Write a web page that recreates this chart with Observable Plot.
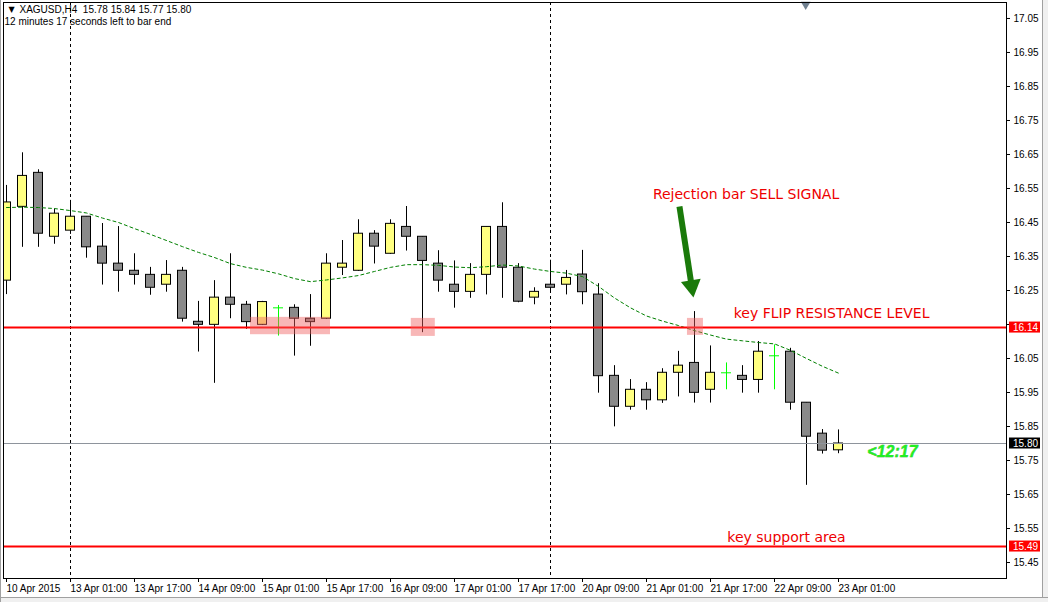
<!DOCTYPE html>
<html>
<head>
<meta charset="utf-8">
<script src="https://cdn.jsdelivr.net/npm/d3@7"></script>
<script src="https://cdn.jsdelivr.net/npm/@observablehq/plot@0.6"></script>
<style>
  html, body { margin: 0; padding: 0; background: #fff; }
  #wrap { position: relative; width: 1048px; height: 602px; overflow: hidden; }
  #edgeR { position: absolute; left: 1042px; top: 0; width: 6px; height: 602px; background: #f0f0f0; border-left: 1px solid #a0a0a0; }
  #edgeB { position: absolute; left: 0; top: 597px; width: 1048px; height: 5px; background: #f0f0f0; border-top: 1px solid #a0a0a0; }
  #edgeL { position: absolute; left: 0; top: 0; width: 1px; height: 602px; background: #a0a0a0; }
</style>
</head>
<body>
<div id="wrap"><div id="edgeR"></div><div id="edgeB"></div><div id="edgeL"></div></div>
<script>
// ---- Data (XAGUSD, H4) ----
const symbolHeader = "XAGUSD,H4  15.78 15.84 15.77 15.80";
const timerText = "12 minutes 17 seconds left to bar end";
const countdown = "<12:17";

const opens  = [16.279,16.496,16.596,16.408,16.426,16.467,16.379,16.329,16.308,16.296,
                16.267,16.308,16.158,16.149,16.229,16.208,16.149,16.199,16.199,16.167,
                16.167,16.317,16.308,16.417,16.358,16.437,16.408,16.329,16.267,16.246,
                16.296,16.437,16.317,16.229,16.267,16.267,16.297,16.238,15.999,15.908,
                15.958,15.927,16.008,16.037,15.958,16.008,15.999,15.987,16.058,16.070,
                15.920,15.829,15.78];
const highs  = [16.559,16.655,16.605,16.490,16.515,16.467,16.447,16.438,16.358,16.318,
                16.338,16.318,16.218,16.279,16.358,16.218,16.218,16.206,16.208,16.238,
                16.358,16.397,16.458,16.426,16.458,16.497,16.408,16.367,16.337,16.329,
                16.437,16.508,16.329,16.258,16.339,16.309,16.368,16.270,16.029,15.988,
                15.979,16.020,16.071,16.188,16.087,16.037,16.029,16.100,16.090,16.080,
                15.920,15.841,15.84];
const lows   = [16.238,16.377,16.377,16.386,16.415,16.345,16.266,16.245,16.266,16.236,
                16.245,16.157,16.069,15.977,16.167,16.136,16.147,16.116,16.057,16.086,
                16.165,16.294,16.306,16.328,16.356,16.366,16.126,16.245,16.198,16.227,
                16.237,16.227,16.214,16.208,16.250,16.237,16.208,15.948,15.849,15.898,
                15.898,15.918,15.937,15.919,15.919,15.958,15.948,15.948,15.958,15.898,
                15.677,15.769,15.77];
const closes = [16.509,16.587,16.417,16.476,16.467,16.377,16.329,16.308,16.296,16.258,
                16.296,16.167,16.149,16.229,16.208,16.157,16.216,16.199,16.167,16.157,
                16.329,16.329,16.417,16.379,16.446,16.408,16.337,16.279,16.246,16.296,
                16.437,16.317,16.217,16.246,16.258,16.287,16.245,15.998,15.908,15.958,
                15.927,16.008,16.029,15.949,16.008,16.008,15.987,16.070,16.058,15.920,
                15.820,15.779,15.80];
const movingAvg = [16.494,16.495,16.494,16.491,16.485,16.478,16.463,16.450,16.432,16.415,
                16.397,16.379,16.362,16.347,16.329,16.318,16.310,16.299,16.285,16.276,
                16.281,16.287,16.294,16.306,16.318,16.326,16.326,16.324,16.319,16.317,
                16.320,16.325,16.322,16.313,16.306,16.301,16.291,16.262,16.228,16.199,
                16.175,16.160,16.147,16.132,16.119,16.107,16.102,16.097,16.093,16.074,
                16.050,16.027,16.007];

const tickIndex  = [0,4,8,12,16,20,24,28,32,36,40,44,48,52];
const tickLabels = ["10 Apr 2015","13 Apr 01:00","13 Apr 17:00","14 Apr 09:00","15 Apr 01:00",
                    "15 Apr 17:00","16 Apr 09:00","17 Apr 01:00","17 Apr 17:00","20 Apr 09:00",
                    "21 Apr 01:00","21 Apr 17:00","22 Apr 09:00","23 Apr 01:00"];
const priceTicks = [15.45,15.55,15.65,15.75,15.85,15.95,16.05,16.15,16.25,16.35,16.45,16.55,16.65,16.75,16.85,16.95,17.05];
const hiddenTickLabels = [16.15]; // covered by the 16.14 price tag
const weekStarts = [4, 34];
// horizontal level lines (exact prices; tags show them truncated to 2 decimals)
const levelLines = [16.141, 15.497];
const levelTagText = ["16.14", "15.49"];
const bidPrice = 15.80;
const priceTags = [
  {v: levelLines[0], label: levelTagText[0], bg: "#ff0000"},
  {v: bidPrice, label: "15.80", bg: "#000000"},
  {v: levelLines[1], label: levelTagText[1], bg: "#ff0000"}
];

const highlights = [
  {x1: 15.25, x2: 20.25, y1: 16.171, y2: 16.120},
  {x1: 25.30, x2: 26.80, y1: 16.168, y2: 16.115},
  {x1: 42.56, x2: 43.56, y1: 16.168, y2: 16.118}
];
const notes = [
  {text: "Rejection bar SELL SIGNAL", x: 40.4, y: 16.532},
  {text: "key FLIP RESISTANCE LEVEL", x: 45.45, y: 16.182},
  {text: "key support area", x: 45.05, y: 15.524}
];
const arrowShaft = [{x1: 42.06, y1: 16.497, x2: 42.80, y2: 16.270}];
const arrowHead = [{x: 42.825, y: 16.263}];
const countdownPos = [{x: 53.8, y: 15.774}];
const shiftMarker = [49.95];

// ---- Build ----
const bars = opens.map((o, i) => ({i, o, h: highs[i], l: lows[i], c: closes[i]}));
const bodies = bars.filter(d => d.o !== d.c);
const dojis = bars.filter(d => d.o === d.c);
const maData = movingAvg.map((v, i) => ({i, v}));
const labelOf = new Map(tickIndex.map((t, k) => [t, tickLabels[k]]));
const fmt2 = d3.format(".2f");

const W = 1048, H = 602, mL = 3, mR = 42, mT = 2, mB = 24;
const uiFont = "Liberation Sans, Arial, sans-serif";
const noteFont = "DejaVu Sans, Verdana, sans-serif";

const chart = Plot.plot({
  width: W, height: H,
  marginLeft: mL, marginRight: mR, marginTop: mT, marginBottom: mB,
  style: {background: "transparent", fontFamily: uiFont, fontSize: "10px", color: "#000", overflow: "visible"},
  x: {domain: [-0.1875, 62.5]},
  y: {domain: [15.403, 17.097]},
  marks: [
    Plot.ruleX(weekStarts, {x: d => d, stroke: "#000", strokeDasharray: "3,3"}),
    Plot.ruleX(bodies, {x: "i", y1: "l", y2: "h", stroke: "#000", clip: true}),
    Plot.ruleX(dojis, {x: "i", y1: "l", y2: "h", stroke: "#00ff00", clip: true}),
    Plot.ruleY(dojis, {y: "o", x1: d => d.i - 0.5, x2: d => d.i + 0.5, insetLeft: 3, insetRight: 3, stroke: "#00ff00"}),
    Plot.rect(bodies, {
      x1: d => d.i - 0.5, x2: d => d.i + 0.5, y1: "o", y2: "c",
      insetLeft: 3.5, insetRight: 3.5,
      fill: d => d.c > d.o ? "#ffff80" : "#8a8a8a", stroke: "#000", strokeWidth: 1, clip: true
    }),
    Plot.line(maData, {x: "i", y: "v", stroke: "#008000", strokeDasharray: "3,3", strokeWidth: 1, clip: true}),
    Plot.ruleY([bidPrice], {y: d => d, stroke: "#8e949c"}),
    Plot.ruleY(levelLines, {y: d => d, stroke: "#ff0000", strokeWidth: 2}),
    Plot.rect(highlights, {x1: "x1", x2: "x2", y1: "y1", y2: "y2", fill: "#f06060", fillOpacity: 0.45}),
    Plot.link(arrowShaft, {x1: "x1", y1: "y1", x2: "x2", y2: "y2", stroke: "#1a7a0a", strokeWidth: 6}),
    Plot.dot(arrowHead, {x: "x", y: "y", symbol: "triangle", rotate: 171.2, r: 7.4, fill: "#1a7a0a", stroke: "none"}),
    Plot.text(notes, {x: "x", y: "y", text: "text", textAnchor: "start", fill: "#ee0000", fontFamily: noteFont, fontSize: 14}),
    Plot.text(countdownPos, {x: "x", y: "y", text: () => countdown, textAnchor: "start", fill: "#22ee22",
      fontFamily: uiFont, fontSize: 16, fontWeight: "bold", fontStyle: "italic", stroke: "#1aa01a", strokeWidth: 0.4}),
    Plot.dot(shiftMarker, {x: d => d, frameAnchor: "top", dy: 2, symbol: "triangle", rotate: 180, r: 3.6, fill: "#6e7f8f"}),
    Plot.text(["▼"], {frameAnchor: "top-left", dx: 5, dy: 7, lineAnchor: "middle", textAnchor: "start", fontSize: 8, fontFamily: "DejaVu Sans"}),
    Plot.text([symbolHeader], {frameAnchor: "top-left", dx: 16, dy: 7, lineAnchor: "middle", textAnchor: "start", fontSize: 10}),
    Plot.text([timerText], {frameAnchor: "top-left", dx: 1, dy: 19, lineAnchor: "middle", textAnchor: "start", fontSize: 10}),
    Plot.frame({stroke: "#000"}),
    Plot.axisX({ticks: tickIndex, tickFormat: d => labelOf.get(d), anchor: "bottom", textAnchor: "start",
      tickSize: 4, tickPadding: 2, fontSize: 10}),
    Plot.axisY({ticks: priceTicks, tickFormat: d => hiddenTickLabels.includes(d) ? "" : fmt2(d),
      anchor: "right", tickSize: 3, tickPadding: 4, fontSize: 10})
  ]
});

// price tags on the right axis, placed through the chart's own y scale
const yScale = chart.scale("y");
const g = d3.select(chart).append("g").attr("text-anchor", "start");
const tagX = W - mR + 3;
priceTags.forEach(t => {
  const py = yScale.apply(t.v);
  g.append("rect").attr("x", tagX).attr("y", py - 5.5).attr("width", 31).attr("height", 11).attr("fill", t.bg);
  g.append("text").attr("x", tagX + 4).attr("y", py).attr("dy", "0.35em").attr("text-anchor", "start")
    .attr("fill", "#fff").attr("font-size", 10).attr("font-family", uiFont).text(t.label);
});

document.getElementById("wrap").prepend(chart);
chart.style.position = "absolute";
chart.style.left = "0";
chart.style.top = "0";
</script>
</body>
</html>
